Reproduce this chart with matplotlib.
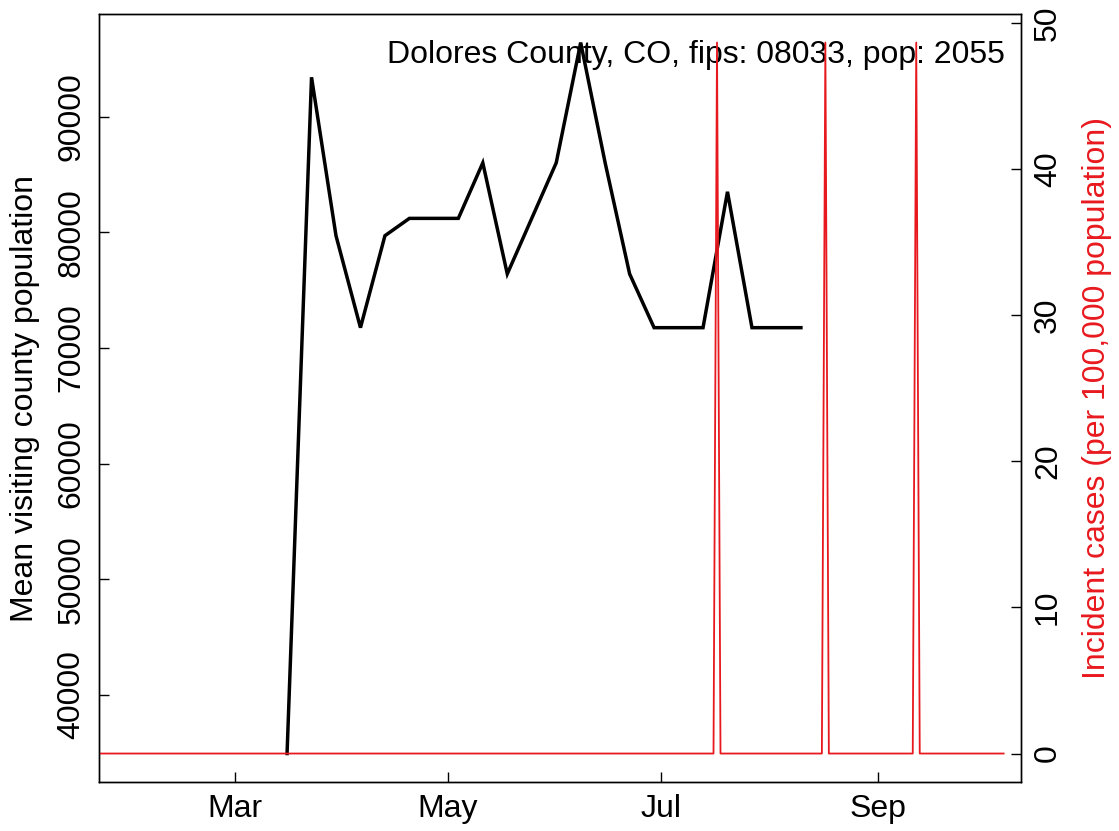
import matplotlib
matplotlib.use('Agg')
import matplotlib.pyplot as plt
import matplotlib.dates as mdates
import numpy as np
import pandas as pd

plt.rcParams['font.family'] = ['Liberation Sans', 'DejaVu Sans']

# weekly mean visiting county population (black)
visit_dates = pd.date_range('2020-03-16', periods=22, freq='7D')
visit_pop = [34930, 93400, 79700, 71750, 79700, 81200, 81200, 81200, 86000, 76400, 81200,
             86000, 96400, 86000, 76400, 71750, 71750, 71750, 83500, 71750, 71750, 71750]

# daily incident cases per 100,000 (red): zero except on these days
case_start = '2020-01-22'
case_end = '2020-10-07'
case_days = ['2020-07-17', '2020-08-17', '2020-09-12']
case_rate = [48.66, 48.66, 48.66]

case_dates = pd.date_range(case_start, case_end, freq='D')
cases = pd.Series(0.0, index=case_dates)
cases[pd.to_datetime(case_days)] = case_rate

red = '#e8191e'
fs = 23

fig = plt.figure(figsize=(11.19, 8.31), dpi=100)
ax = fig.add_axes([0.0885, 0.059, 0.8235, 0.924])
ax2 = ax.twinx()

ax.plot(visit_dates, visit_pop, color='black', lw=2.5, solid_joinstyle='miter')
ax.margins(y=0.04)
ax2.plot(cases.index, cases.values, color=red, lw=1.3)
ax2.margins(y=0.04)

ax.set_xlim(pd.Timestamp('2020-01-22 05:00'), pd.Timestamp('2020-10-11 20:00'))

ax.xaxis.set_major_locator(mdates.MonthLocator(bymonth=[3, 5, 7, 9]))
ax.xaxis.set_major_formatter(mdates.DateFormatter('%b'))
ax.set_yticks([40000, 50000, 60000, 70000, 80000, 90000])
ax2.set_yticks([0, 10, 20, 30, 40, 50])

ax.tick_params(axis='x', direction='in', length=7, width=1, labelsize=fs, pad=9)
ax.tick_params(axis='y', direction='in', length=7, width=1, labelsize=fs, pad=9)
ax2.tick_params(axis='y', direction='in', length=7, width=1, labelsize=fs, pad=9)
for lab in ax.get_yticklabels():
    lab.set_rotation(90)
    lab.set_va('center')
for lab in ax2.get_yticklabels():
    lab.set_rotation(90)
    lab.set_va('center')

for a in (ax, ax2):
    for s in a.spines.values():
        s.set_linewidth(1)

ax.set_ylabel('Mean visiting county population', fontsize=fs, labelpad=12)
ax2.set_ylabel('Incident cases (per 100,000 population)', fontsize=fs, color=red, labelpad=14)

ax.text(0.983, 0.947, 'Dolores County, CO, fips: 08033, pop: 2055', transform=ax.transAxes,
        ha='right', va='center', fontsize=fs, zorder=5)

fig.savefig('out.png', dpi=100)
